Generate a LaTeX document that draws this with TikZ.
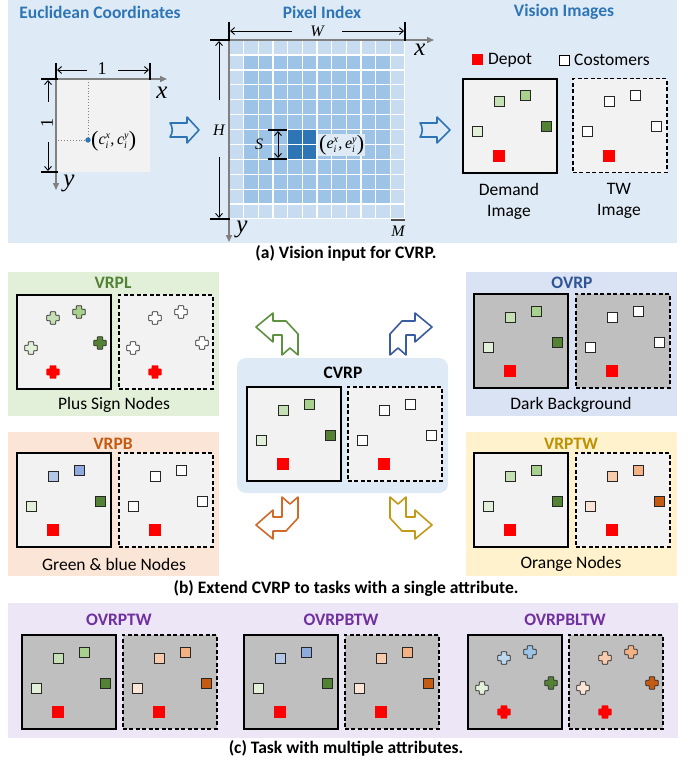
\documentclass[tikz,border=0pt]{standalone}
\usepackage{fontspec}
\setmainfont{Carlito}
\newfontfamily\tnr{Liberation Serif}
\usetikzlibrary{arrows.meta,calc}
\definecolor{pa}{HTML}{DEEBF7}
\definecolor{tblue}{HTML}{2E75B6}
\definecolor{boxg}{HTML}{F2F2F2}
\definecolor{boxd}{HTML}{BFBFBF}
\definecolor{glight}{HTML}{C7DCF0}
\definecolor{gmid}{HTML}{9DC3E6}
\definecolor{gdark}{HTML}{2E75B6}
\definecolor{pvrpl}{HTML}{E2F0D9}
\definecolor{povrp}{HTML}{DAE3F3}
\definecolor{pvrpb}{HTML}{FBE5D6}
\definecolor{pvrptw}{HTML}{FFF2CC}
\definecolor{pc}{HTML}{EDE6F6}
\definecolor{tgreen}{HTML}{548235}
\definecolor{tovrp}{HTML}{2F5597}
\definecolor{torange}{HTML}{C55A11}
\definecolor{tgold}{HTML}{BF9000}
\definecolor{tpurple}{HTML}{7030A0}
\definecolor{agreen}{HTML}{5E9140}
\definecolor{ablue}{HTML}{3A5CA0}
\definecolor{aorange}{HTML}{D06A2A}
\definecolor{agold}{HTML}{C29A18}
% palettes
\definecolor{pg1}{HTML}{C5E0B4}\definecolor{pg2}{HTML}{A9D18E}\definecolor{pg3}{HTML}{548235}\definecolor{pg4}{HTML}{E2F0D9}
\definecolor{pw1}{HTML}{FFFFFF}\definecolor{pw2}{HTML}{FFFFFF}\definecolor{pw3}{HTML}{FFFFFF}\definecolor{pw4}{HTML}{FFFFFF}
\definecolor{po1}{HTML}{F8CBAD}\definecolor{po2}{HTML}{F4B183}\definecolor{po3}{HTML}{C55A11}\definecolor{po4}{HTML}{FBE5D6}
\definecolor{pb1}{HTML}{B4C7E7}\definecolor{pb2}{HTML}{8FAADC}\definecolor{pb3}{HTML}{548235}\definecolor{pb4}{HTML}{E2F0D9}
\definecolor{pl1}{HTML}{BDD7EE}\definecolor{pl2}{HTML}{9DC3E6}\definecolor{pl3}{HTML}{548235}\definecolor{pl4}{HTML}{E2F0D9}
\tikzset{
 ttl/.style={font=\fontsize{17.5}{21}\selectfont\bfseries, text=#1, inner sep=0},
 lbl/.style={font=\fontsize{17.5}{21}\selectfont, inner sep=0},
 imgf/.style={draw=black, line width=1.8pt, minimum width=94pt, minimum height=94pt, inner sep=0, anchor=north west},
 imgd/.style={imgf, line width=1.5pt, dash pattern=on 4pt off 2.5pt},
 cust/.style={draw=black!85, line width=1pt, minimum size=10pt, inner sep=0},
 depot/.style={fill=red, minimum size=12pt, inner sep=0},
 axis/.style={draw=gray, line width=1.5pt, -{Triangle[length=7pt,width=6pt]}},
 tickl/.style={line width=2pt, black},
 dimt/.style={line width=0.9pt, -{Straight Barb[length=4pt,width=7pt]}},
 dl/.style={font=\tnr\fontsize{18}{20}\selectfont, inner sep=1pt},
 axl/.style={font=\tnr\itshape\fontsize{25}{26}\selectfont, inner sep=0},
 mth/.style={font=\tnr\itshape\fontsize{16}{18}\selectfont, inner sep=1pt},
 barrow/.style={draw=tblue, line width=1.6pt, line join=round},
 bent/.style={draw=#1, fill=white, line width=1.6pt, line join=round},
}
\newcommand\ssx[2]{\rlap{\raisebox{6pt}{\fontsize{10}{10}\selectfont #1}}\raisebox{-3.5pt}{\fontsize{10}{10}\selectfont #2}\kern2pt}
\newcommand\bigp[1]{{\upshape\fontsize{22}{22}\selectfont\raisebox{-1.5pt}{#1}}}
\newcommand\plusshape[2]{(-#2,-#1) -- (#2,-#1) -- (#2,-#2) -- (#1,-#2) -- (#1,#2) -- (#2,#2) -- (#2,#1) -- (-#2,#1) -- (-#2,#2) -- (-#1,#2) -- (-#1,-#2) -- (-#2,-#2) -- cycle}
\newcommand\custsq[4]{\node[cust, fill=#3] (#4) at ({#1},{#2}) {};}
\newcommand\custpl[4]{\coordinate (#4) at ({#1},{#2}); \filldraw[fill=#3, draw=black!85, line width=0.8pt, rounded corners=0.5pt, shift={(#4)}] \plusshape{6.2}{2.7};}
\newcommand\depotsq[3]{\node[depot] (#3) at ({#1},{#2}) {};}
\newcommand\depotpl[3]{\coordinate (#3) at ({#1},{#2}); \fill[red, rounded corners=0.5pt, shift={(#3)}] \plusshape{6.6}{3.3};}
\newcommand\vimg[7]{%
  \node[#5, fill=#4] (#1) at (#2,#3) {};
  \csname cust#6\endcsname{#2+37}{#3+24}{#71}{#1-a}
  \csname cust#6\endcsname{#2+63}{#3+18}{#72}{#1-b}
  \csname cust#6\endcsname{#2+84}{#3+49}{#73}{#1-c}
  \csname cust#6\endcsname{#2+15}{#3+54}{#74}{#1-d}
  \csname depot#6\endcsname{#2+37}{#3+78}{#1-dep}
}
\newcommand\bentarrow[5]{%
  \draw[bent=#5, shift={(#1,#2)}, xscale=#3, yscale=#4] (0,14) -- (17,0) -- (17,8) -- (30,8) -- (42,21) -- (42,42) -- (34,35) -- (26,42) -- (26,22) -- (17,22) -- (17,29) -- cycle;}
\begin{document}
\begin{tikzpicture}[x=1pt,y=-1pt]
\useasboundingbox (0,0) rectangle (692,762);
\fill[white] (0,0) rectangle (692,762);
%% ---------------- (a)
\fill[pa] (8,0) rectangle (677,243);
\node[ttl=tblue] (ta1) at (100,12) {Euclidean Coordinates};
\node[ttl=tblue] (ta2) at (322,12) {Pixel Index};
\node[ttl=tblue] (ta3) at (564,12) {Vision Images};
% Euclidean
\fill[boxg] (56,79) rectangle (150,172);
\draw[dotted, gray, line width=0.9pt] (88,79) -- (88,140) -- (56,140);
\draw[axis] (56,79) -- (167,79);
\draw[axis] (56,79) -- (56,190);
\node[axl] (ex) at (162,93) {x};
\node[axl] (ey) at (69,183) {y};
\draw[tickl] (56,63) -- (56,80);
\draw[tickl] (150,63) -- (150,80);
\node[dl] (d1) at (102,69) {1};
\draw[dimt] (87,70) -- (57,70);
\draw[dimt] (118,70) -- (149,70);
\draw[tickl] (41,79) -- (58,79);
\draw[tickl] (41,172) -- (58,172);
\node[dl, rotate=90] (d2) at (47,123) {1};
\draw[dimt] (48,102) -- (48,80);
\draw[dimt] (48,142) -- (48,171);
\fill[tblue] (88,140) circle (2.7);
\node[mth, anchor=west] (cc) at (90,141) {\bigp{(}c\ssx{x}{i},\,c\ssx{y}{i}\bigp{)}};
\draw[barrow] (170,123) -- (187,123) -- (187,117) -- (199,130) -- (187,143) -- (187,137) -- (170,137) .. controls (173,133) and (173,127) .. (170,123) -- cycle;
% Pixel grid
\fill[white] (229,40) rectangle (405,219);
\foreach \i in {0,...,11}{\foreach \j in {0,...,11}{
  \def\cc{gmid}
  \ifnum\i=0 \def\cc{glight}\fi
  \ifnum\i=11 \def\cc{glight}\fi
  \ifnum\j=0 \def\cc{glight}\fi
  \ifnum\j=11 \def\cc{glight}\fi
  \ifnum\i>3 \ifnum\i<6 \ifnum\j>5 \ifnum\j<8 \def\cc{gdark}\fi\fi\fi\fi
  \fill[\cc] ({229+\i*14.67+0.7},{40+\j*14.92+0.7}) rectangle ++(13.27,13.52);
}}
\draw[axis] (229,40) -- (434,40);
\draw[axis] (229,40) -- (229,242);
\node[axl] (px) at (420,50) {x};
\node[axl] (py) at (242,229) {y};
\draw[tickl] (229,22) -- (229,41);
\draw[tickl] (405,22) -- (405,41);
\node[mth] (lw) at (317,31) {W};
\draw[dimt] (292,31) -- (230,31);
\draw[dimt] (342,31) -- (404,31);
\draw[tickl] (210,40) -- (230,40);
\draw[tickl] (210,219) -- (230,219);
\node[mth] (lh) at (219,130) {H};
\draw[dimt] (219,100) -- (219,41);
\draw[dimt] (219,157) -- (219,218);
\draw[tickl] (268,129.6) -- (287,129.6);
\draw[tickl] (268,159) -- (287,159);
\draw[line width=0.9pt, {Straight Barb[length=4pt,width=7pt]}-{Straight Barb[length=4pt,width=7pt]}] (278,131) -- (278,158);
\node[mth] (ls) at (259,144) {S};
\node[mth, anchor=west, fill=pa] (le) at (318,145) {\bigp{(}e\ssx{x}{i},\,e\ssx{y}{i}\bigp{)}};
\draw[line width=2pt, black!70] (391,219.5) -- (405,219.5);
\node[mth] (lm) at (398,231) {M};
\draw[barrow] (420,123) -- (437,123) -- (437,117) -- (450,130) -- (437,143) -- (437,137) -- (420,137) .. controls (423,133) and (423,127) .. (420,123) -- cycle;
% Vision images
\node[fill=red, minimum size=11pt, inner sep=0] (lgd) at (477.5,60) {};
\node[lbl, anchor=west] (lgdt) at (488,60) {Depot};
\node[draw=black, line width=1pt, fill=white, minimum size=10pt, inner sep=0] (lgc) at (564,60.5) {};
\node[lbl, anchor=west] (lgct) at (574,60) {Costomers};
\vimg{dem}{462}{78}{boxg}{imgf}{sq}{pg}
\vimg{tw}{572}{78}{boxg}{imgd}{sq}{pw}
\node[lbl, align=center] (ldem) at (509,201) {Demand\\Image};
\node[lbl, align=center] (ltw) at (619,201) {TW\\Image};
\node[ttl=black] (capa) at (346,253) {(a) Vision input for CVRP.};
%% ---------------- (b)
\fill[pvrpl] (8,272) rectangle (219,416);
\node[ttl=tgreen] (tvrpl) at (113,283) {VRPL};
\vimg{l1}{16}{294}{boxg}{imgf}{pl}{pg}
\vimg{l2}{118}{294}{boxg}{imgd}{pl}{pw}
\node[lbl] (lvrpl) at (114,405) {Plus Sign Nodes};
\fill[povrp] (466,272) rectangle (677,416);
\node[ttl=tovrp] (tovrpn) at (572,283) {OVRP};
\vimg{o1}{473}{293}{boxd}{imgf}{sq}{pg}
\vimg{o2}{575}{293}{boxd}{imgd}{sq}{pw}
\node[lbl] (lovrp) at (571,405) {Dark Background};
\fill[pvrpb] (8,432) rectangle (219,576);
\node[ttl=torange] (tvrpb) at (113,444) {VRPB};
\vimg{b1}{16}{452}{boxg}{imgf}{sq}{pb}
\vimg{b2}{118}{452}{boxg}{imgd}{sq}{pw}
\node[lbl] (lvrpb) at (114,564) {Green \& blue Nodes};
\fill[pvrptw] (466,432) rectangle (677,576);
\node[ttl=tgold] (tvrptw) at (571,444) {VRPTW};
\vimg{t1}{473}{452}{boxg}{imgf}{sq}{pg}
\vimg{t2}{575}{452}{boxg}{imgd}{sq}{po}
\node[lbl] (lvrptw) at (571,564) {Orange Nodes};
\fill[pa, rounded corners=9pt] (237,358) rectangle (448,493);
\node[ttl=black] (tcvrp) at (343,373) {CVRP};
\vimg{c1}{246}{386}{boxg}{imgf}{sq}{pg}
\vimg{c2}{347}{386}{boxg}{imgd}{sq}{pw}
\bentarrow{256}{313}{1}{1}{agreen}
\bentarrow{432}{313}{-1}{1}{ablue}
\bentarrow{256}{539}{1}{-1}{aorange}
\bentarrow{432}{539}{-1}{-1}{agold}
\node[ttl=black] (capb) at (346,588) {(b) Extend CVRP to tasks with a single attribute.};
%% ---------------- (c)
\fill[pc] (8,603) rectangle (678,738);
\node[ttl=tpurple] (tc1) at (119,620) {OVRPTW};
\node[ttl=tpurple] (tc2) at (341,620) {OVRPBTW};
\node[ttl=tpurple] (tc3) at (565,620) {OVRPBLTW};
\vimg{m1}{21}{634}{boxd}{imgf}{sq}{pg}
\vimg{m2}{122}{634}{boxd}{imgd}{sq}{po}
\vimg{m3}{243}{634}{boxd}{imgf}{sq}{pb}
\vimg{m4}{344}{634}{boxd}{imgd}{sq}{po}
\vimg{m5}{467}{634}{boxd}{imgf}{pl}{pl}
\vimg{m6}{568}{634}{boxd}{imgd}{pl}{po}
\node[ttl=black] (capc) at (346,748) {(c) Task with multiple attributes.};
\end{tikzpicture}
\end{document}
